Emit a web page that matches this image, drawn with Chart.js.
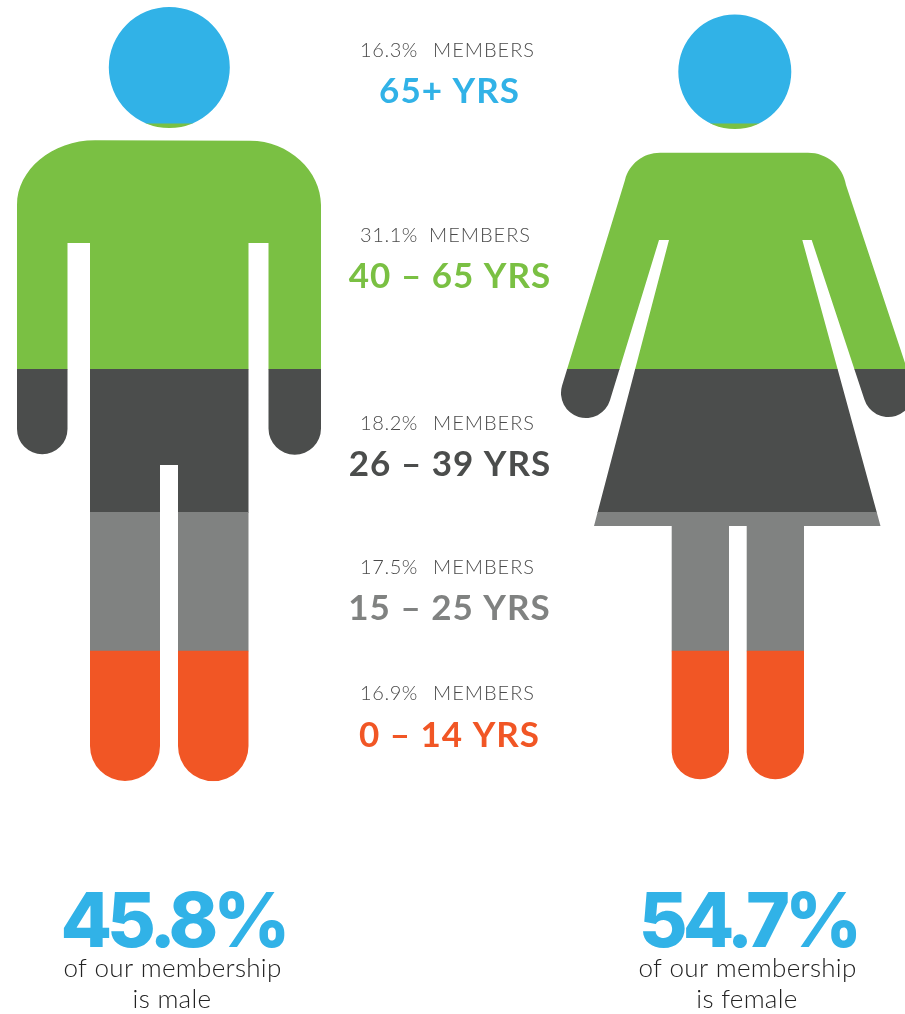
<!DOCTYPE html>
<html><head><meta charset="utf-8">
<style>html,body{margin:0;padding:0;background:#fff}canvas{display:block}</style>
<script src="https://cdn.jsdelivr.net/npm/chart.js@4"></script>
</head><body><canvas id="c" width="905" height="1014"></canvas>
<script>
const genders = ['Male', '', 'Female'];
const ageGroups = ['0 – 14 YRS', '15 – 25 YRS', '26 – 39 YRS', '40 – 65 YRS', '65+ YRS'];
const bandShares = [16.8, 17.9, 18.5, 31.7, 15.1];      // band heights
const memberLabels = ['16.9%', '17.5%', '18.2%', '31.1%', '16.3%'];
const ageColors = ['#F15625', '#808281', '#4B4D4C', '#7AC043', '#31B2E7'];
const genderShareLabels = ['45.8%', '54.7%'];
const genderCaptions = [['of our membership', 'is male'], ['of our membership', 'is female']];

// Silhouette masks: the stacked bars are clipped to these shapes.
const maleMask = 'M95 140.3 L250 140.7 C289 140.7 321 171 321 205 L321 428.5 A26.25 26.25 0 0 1 268.5 428.5 L268.5 243 L248.5 243 L248.5 746 A35.25 35.25 0 0 1 178 746 L178 465 L160 465 L160 746 A35 35 0 0 1 90 746 L90 243 L67.5 243 L67.5 429 A25.25 25.25 0 0 1 17 429 L17 205 C17 170 52 140.3 95 140.3 Z';
const femaleMask = 'M660 152.7 L808 152.7 C827 152.7 843 166 846 185 L912.2 384.6 A25 25 0 0 1 864.4 399.4 L811.7 240 L802.3 240 L880.5 526 L804 526 L804 752.3 A28.7 28.7 0 0 1 746.7 752.3 L746.7 526 L729 526 L729 752.3 A28.7 28.7 0 0 1 671.7 752.3 L671.7 526 L594 526 L669 240 L659 240 L609.9 400.4 A25 25 0 0 1 562.1 385.6 L625 180 C629 164 643 152.7 660 152.7 Z';
const maleHead = 'M108.8 67.5 A60.5 60.5 0 1 1 229.8 67.5 A60.5 60.5 0 1 1 108.8 67.5 Z';
const femaleHead = 'M678.3 71.7 A56.5 57.3 0 1 1 791.3 71.7 A56.5 57.3 0 1 1 678.3 71.7 Z';
const mask = new Path2D([maleMask, femaleMask, maleHead, femaleHead].join(' '));

const rowLayout = [
  {small: 693, big: 733.5, right: 535, bigX: 449.5},
  {small: 567, big: 606.5, right: 535, bigX: 449.5},
  {small: 423, big: 462.5, right: 535, bigX: 450},
  {small: 235, big: 274.5, right: 531, bigX: 450},
  {small: 50,  big: 89.5,  right: 535, bigX: 449.5}
];

function put(ctx, text, x, y, font, color, align, spacing) {
  ctx.font = font; ctx.fillStyle = color; ctx.textAlign = align; ctx.textBaseline = 'alphabetic';
  ctx.letterSpacing = spacing || '0px';
  ctx.fillText(text, x, y);
}

const silhouette = {
  id: 'silhouette',
  beforeDatasetsDraw(chart) { chart.ctx.save(); chart.ctx.clip(mask); },
  afterDatasetsDraw(chart) { chart.ctx.restore(); },
  afterDraw(chart) {
    const ctx = chart.ctx;
    ctx.save();
    ageGroups.forEach((g, i) => {
      const r = rowLayout[i];
      put(ctx, memberLabels[i], 360, r.small + 7, '300 20px Lato', '#4a4a4a', 'left', '0.6px');
      put(ctx, 'MEMBERS', r.right, r.small + 7, '300 20px Lato', '#4a4a4a', 'right', '1px');
      put(ctx, g, r.bigX, r.big + 13, '700 35px Lato', ageColors[i], 'center', '1px');
    });
    const xs = [173, 748];
    genderShareLabels.forEach((t, i) => {
      put(ctx, t, xs[i], 947, '800 75px Inter', ageColors[4], 'center', '-5px');
      put(ctx, genderCaptions[i][0], xs[i] - 0.5, 977, '300 26px Lato', '#222', 'center', '0.3px');
      put(ctx, genderCaptions[i][1], xs[i] - 1, 1008, '300 26px Lato', '#222', 'center', '0.3px');
    });
    ctx.restore();
  }
};

new Chart(document.getElementById('c'), {
  type: 'bar',
  data: {
    labels: genders,
    datasets: ageGroups.map((g, i) => ({
      label: g,
      data: [bandShares[i], null, bandShares[i]],
      backgroundColor: ageColors[i],
      borderWidth: 0,
      barThickness: 350,
      clip: false
    }))
  },
  options: {
    responsive: false,
    animation: false,
    events: [],
    layout: {padding: {left: 27.5, right: 28.5, top: 7, bottom: 233}},
    plugins: {legend: {display: false}, tooltip: {enabled: false}, title: {display: false}},
    scales: {
      x: {display: false, stacked: true},
      y: {display: false, stacked: true, min: 0, max: 100}
    }
  },
  plugins: [silhouette]
});
</script></body></html>
